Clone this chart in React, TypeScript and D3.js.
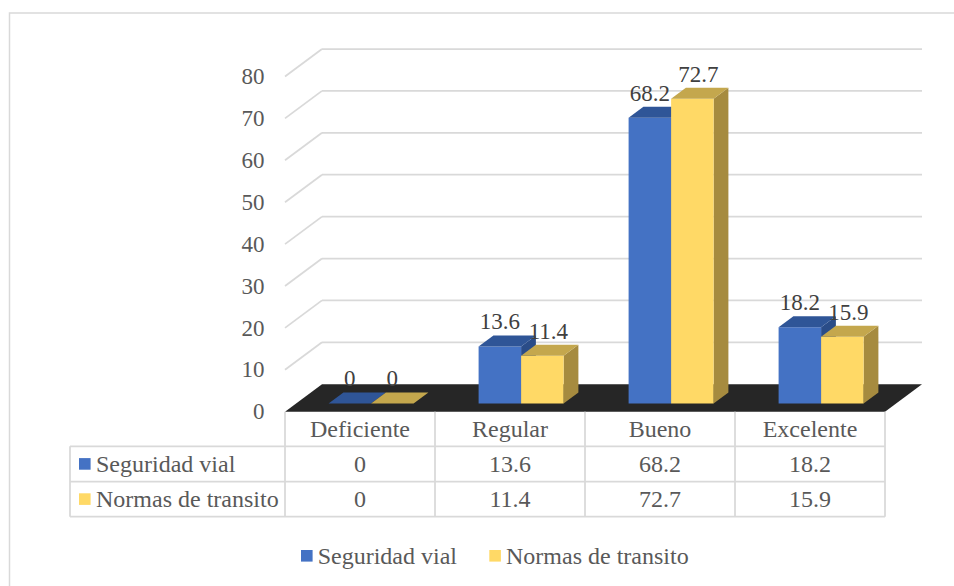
import React from "react";
import * as d3 from "d3";

const categories = ["Deficiente", "Regular", "Bueno", "Excelente"];
const seriesNames = ["Seguridad vial", "Normas de transito"];
const seguridadVial = [0, 13.6, 68.2, 18.2];
const normasTransito = [0, 11.4, 72.7, 15.9];
const yTicks = [0, 10, 20, 30, 40, 50, 60, 70, 80];

const seriesValues = [seguridadVial, normasTransito];
const frontColors = ["#4472C4", "#FFD966"];
const topColors = ["#2F5597", "#C4A74D"];
const sideColors = ["#2A4C88", "#A68B3F"];

const W = 954;
const H = 586;
const FONT = "Liberation Serif, DejaVu Serif";
const TEXT = "#595959";
const LABEL = "#404040";
const GRID = "#D9D9D9";

// 3D geometry
const frontLeft = 285;
const frontRight = 885;
const frontBaseY = 411.7;
const depthDX = 37;
const depthDY = 27.5;
const barZ0 = 0.3;
const barZ1 = 0.7;

export default function App() {
  const x = d3.scaleBand<string>().domain(categories).range([frontLeft, frontRight]).paddingInner(0).paddingOuter(0);
  const h = d3.scaleLinear().domain([0, 80]).range([0, 335.2]);
  const bw = 42.5;
  const inner = d3.scaleBand<number>().domain([0, 1]).range([-bw, bw]).padding(0);

  const proj = (px: number, v: number, z: number): [number, number] => [
    px + z * depthDX,
    frontBaseY - z * depthDY - h(v),
  ];

  const pts = (arr: [number, number][]) => arr.map((p) => p.join(",")).join(" ");

  const tableLeft = 70;
  const rowTops = [frontBaseY, 446.3, 481.5, 516.7];
  const colEdges = [frontLeft, ...categories.map((c) => (x(c) as number) + x.bandwidth())];

  const bars: React.ReactNode[] = [];
  const labels: React.ReactNode[] = [];
  categories.forEach((c, ci) => {
    const cx = (x(c) as number) + x.bandwidth() / 2;
    seriesValues.forEach((vals, si) => {
      const v = vals[ci];
      const x0 = cx + (inner(si) as number);
      const x1 = x0 + inner.bandwidth();
      const fTL = proj(x0, v, barZ0);
      const fTR = proj(x1, v, barZ0);
      const bTL = proj(x0, v, barZ1);
      const bTR = proj(x1, v, barZ1);
      const fBR = proj(x1, 0, barZ0);
      const bBR = proj(x1, 0, barZ1);
      const fBL = proj(x0, 0, barZ0);
      const key = `${ci}-${si}`;
      bars.push(
        <g key={key}>
          {v > 0 && <polygon points={pts([fTR, bTR, bBR, fBR])} fill={sideColors[si]} />}
          {v > 0 && <polygon points={pts([fTL, fTR, fBR, fBL])} fill={frontColors[si]} />}
          <polygon points={pts([fTL, fTR, bTR, bTL])} fill={topColors[si]} />
        </g>
      );
      const shift = si === 1 && v > 0 ? 6 : 0;
      labels.push(
        <text
          key={"l" + key}
          x={(fTL[0] + fTR[0]) / 2 + shift}
          y={fTL[1] - 17}
          textAnchor="middle"
          fontSize={23}
          fill={LABEL}
          fontFamily={FONT}
        >
          {String(v)}
        </text>
      );
    });
  });

  return (
    <svg width={W} height={H} style={{ position: "absolute", left: 0, top: 0, background: "#fff" }}>
      <rect x={9.5} y={13} width={1000} height={700} fill="#fff" stroke={GRID} strokeWidth={1.5} />

      {yTicks.map((t) => {
        const a = proj(frontLeft, t, 0);
        const b = proj(frontLeft, t, 1);
        const c = proj(frontRight, t, 1);
        return (
          <g key={"g" + t}>
            {t > 0 && <line x1={b[0]} y1={b[1]} x2={c[0]} y2={c[1]} stroke={GRID} strokeWidth={1.75} />}
            {t > 0 && <line x1={a[0]} y1={a[1]} x2={b[0]} y2={b[1]} stroke={GRID} strokeWidth={1.75} />}
            <text x={264.5} y={a[1] + 7.6} textAnchor="end" fontSize={23} fill={TEXT} fontFamily={FONT}>
              {t}
            </text>
          </g>
        );
      })}

      <polygon
        points={pts([
          proj(frontLeft, 0, 0),
          proj(frontRight, 0, 0),
          proj(frontRight, 0, 1),
          proj(frontLeft, 0, 1),
        ])}
        fill="#262626"
      />

      {bars}
      {labels}

      <g stroke={GRID} strokeWidth={1.75}>
        {colEdges.map((e, i) => (
          <line key={"hv" + i} x1={e} y1={rowTops[0]} x2={e} y2={rowTops[3]} />
        ))}
        <line x1={tableLeft} y1={rowTops[1]} x2={tableLeft} y2={rowTops[3]} />
        {[1, 2, 3].map((r) => (
          <line key={"hr" + r} x1={tableLeft} y1={rowTops[r]} x2={frontRight} y2={rowTops[r]} />
        ))}
      </g>
      {categories.map((c, i) => (
        <text
          key={"hc" + i}
          x={(colEdges[i] + colEdges[i + 1]) / 2}
          y={(rowTops[0] + rowTops[1]) / 2 + 8}
          textAnchor="middle"
          fontSize={24}
          fill={TEXT}
          fontFamily={FONT}
        >
          {c}
        </text>
      ))}
      {seriesNames.map((s, si) => {
        const cy = (rowTops[si + 1] + rowTops[si + 2]) / 2;
        return (
          <g key={"row" + si}>
            <rect x={79} y={cy - 5.8} width={11.6} height={11.6} fill={frontColors[si]} />
            <text x={96} y={cy + 8} fontSize={24} fill={TEXT} fontFamily={FONT}>
              {s}
            </text>
            {seriesValues[si].map((v, ci) => (
              <text
                key={ci}
                x={(colEdges[ci] + colEdges[ci + 1]) / 2}
                y={cy + 8}
                textAnchor="middle"
                fontSize={24}
                fill={TEXT}
                fontFamily={FONT}
              >
                {String(v)}
              </text>
            ))}
          </g>
        );
      })}

      <g>
        <rect x={301} y={550} width={11.6} height={11.6} fill={frontColors[0]} />
        <text x={317.7} y={564.3} fontSize={24} fill={TEXT} fontFamily={FONT}>
          {seriesNames[0]}
        </text>
        <rect x={489.3} y={550} width={11.6} height={11.6} fill={frontColors[1]} />
        <text x={506} y={564.3} fontSize={24} fill={TEXT} fontFamily={FONT}>
          {seriesNames[1]}
        </text>
      </g>
    </svg>
  );
}
